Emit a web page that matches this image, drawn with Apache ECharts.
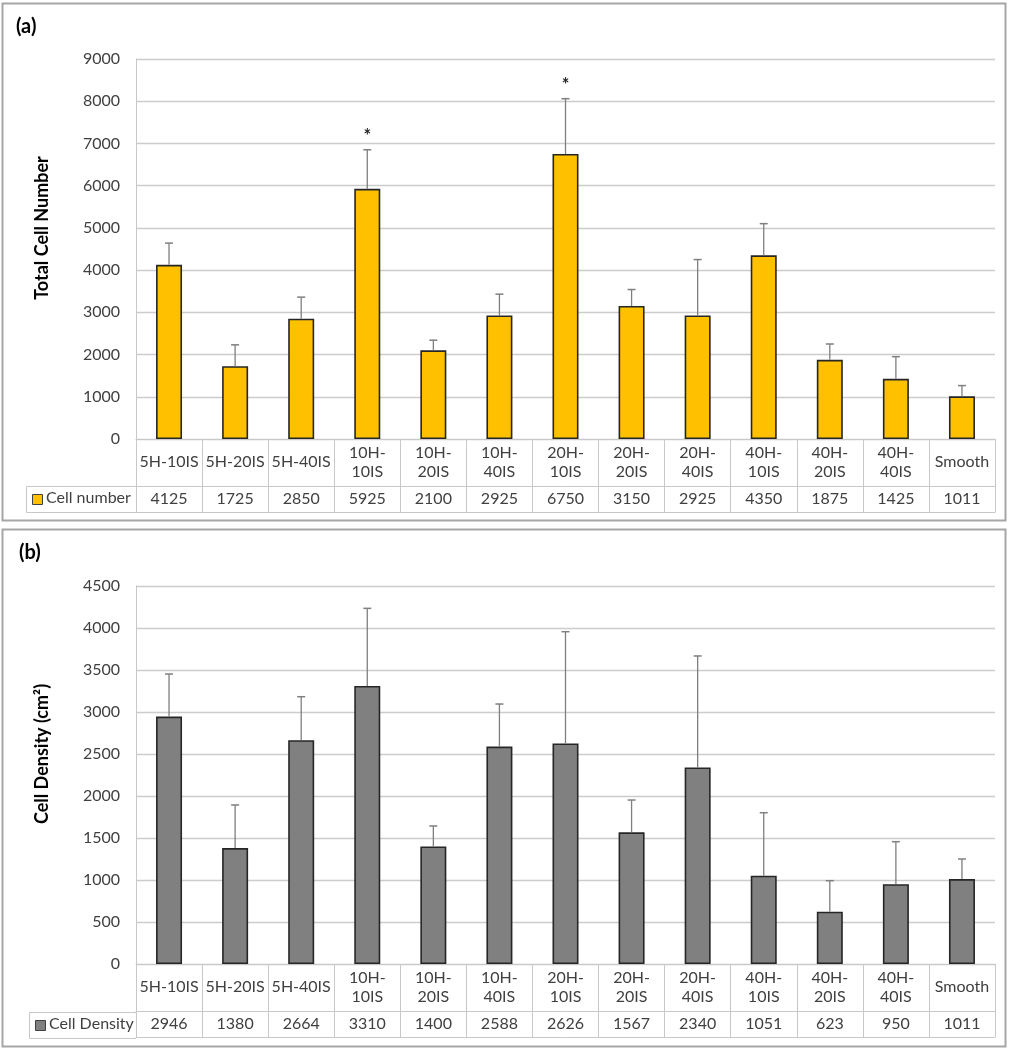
<!DOCTYPE html>
<html>
<head>
<meta charset="utf-8">
<script src="https://cdn.jsdelivr.net/npm/echarts@6/dist/echarts.min.js"></script>
<style>
html,body{margin:0;padding:0;background:#fff;}
#chart{width:1011px;height:1050px;}
</style>
</head>
<body>
<div id="chart"></div>
<script>
const categories = ['5H-10IS','5H-20IS','5H-40IS','10H-10IS','10H-20IS','10H-40IS','20H-10IS','20H-20IS','20H-40IS','40H-10IS','40H-20IS','40H-40IS','Smooth'];
const cellNumber = [4125,1725,2850,5925,2100,2925,6750,3150,2925,4350,1875,1425,1011];
const cellNumberErrTop = [4640,2230,3360,6850,2340,3430,8060,3540,4250,5100,2250,1950,1265];
const cellNumberSig = ['','','','*','','','*','','','','','',''];
const cellDensity = [2946,1380,2664,3310,1400,2588,2626,1567,2340,1051,623,950,1011];
const cellDensityErrTop = [3452,1893,3182,4234,1643,3095,3956,1952,3667,1801,992,1456,1250];
const cellDensitySig = ['','','','','','','','','','','','',''];
const yTicksA = {min:0, max:9000, interval:1000};
const yTicksB = {min:0, max:4500, interval:500};

const FONT = 'Lato';
const TXT = '#404040';
const GRIDC = '#cccccc';
const TABLEC = '#c8c8c8';

function catLabel(v){ return v.length > 7 ? v.replace('-', '-\n') : v; }

function errRender(sig){
  return function(params, api){
    const i = api.value(0), v = api.value(1), t = api.value(2);
    const p0 = api.coord([i, v]);
    const p1 = api.coord([i, t]);
    const children = [
      {type:'line', shape:{x1:p0[0], y1:p0[1], x2:p1[0], y2:p1[1]}, style:{stroke:'#7f7f7f', lineWidth:1.3}},
      {type:'line', shape:{x1:p1[0]-4, y1:p1[1], x2:p1[0]+4, y2:p1[1]}, style:{stroke:'#7f7f7f', lineWidth:1.5}}
    ];
    const s = sig[params.dataIndex];
    if (s) {
      children.push({type:'text', x:p1[0], y:p1[1]-5, style:{text:s, fontSize:18, fontWeight:'bold', fontFamily:FONT, fill:'#262626', align:'center', verticalAlign:'bottom'}});
    }
    return {type:'group', children:children};
  };
}

const grids = [
  {left:136, width:859, top:59, height:380},
  {left:136, width:859, top:586, height:378}
];

function xAxesFor(gi, values){
  return [
    {type:'category', gridIndex:gi, data:categories, position:'bottom',
     axisLine:{show:true, lineStyle:{color:TABLEC, width:1}},
     axisTick:{show:true, length:73, lineStyle:{color:TABLEC, width:1}},
     axisLabel:{formatter:catLabel, interval:0, margin:23, verticalAlign:'middle', fontFamily:FONT, fontSize:16, color:TXT, lineHeight:19}},
    {type:'category', gridIndex:gi, data:values.map(String), position:'bottom', offset:47,
     axisLine:{show:true, lineStyle:{color:TABLEC, width:1}},
     axisTick:{show:false},
     axisLabel:{interval:0, margin:13, verticalAlign:'middle', fontFamily:FONT, fontSize:16, color:TXT}},
    {type:'category', gridIndex:gi, data:categories, position:'bottom', offset:73,
     axisLine:{show:true, lineStyle:{color:TABLEC, width:1}},
     axisTick:{show:false}, axisLabel:{show:false}}
  ];
}

function yAxisFor(gi, ticks, name){
  return {type:'value', gridIndex:gi, min:ticks.min, max:ticks.max, interval:ticks.interval,
    name:name, nameLocation:'middle', nameGap:85, nameRotate:90,
    nameTextStyle:{fontFamily:FONT, fontSize:18, fontWeight:'bold', color:'#000', padding:[0,0,0,42]},
    axisLine:{show:true, lineStyle:{color:TABLEC, width:1}},
    axisTick:{show:false},
    axisLabel:{fontFamily:FONT, fontSize:16, color:TXT, margin:16, formatter:function(v){return String(v);}},
    splitLine:{show:true, lineStyle:{color:GRIDC, width:1.3}}};
}

const option = {
  animation:false,
  backgroundColor:'#fff',
  grid: grids,
  xAxis: [].concat(xAxesFor(0, cellNumber), xAxesFor(1, cellDensity)),
  yAxis: [yAxisFor(0, yTicksA, 'Total Cell Number'), yAxisFor(1, yTicksB, 'Cell Density (cm²)')],
  series: [
    {type:'bar', xAxisIndex:0, yAxisIndex:0, data:cellNumber, barWidth:26,
     itemStyle:{color:'#FFC000', borderColor:'#262626', borderWidth:1.6}},
    {type:'custom', xAxisIndex:0, yAxisIndex:0, renderItem:errRender(cellNumberSig),
     data:cellNumber.map((v,i)=>[i, v, cellNumberErrTop[i]]), z:3},
    {type:'bar', xAxisIndex:3, yAxisIndex:1, data:cellDensity, barWidth:26,
     itemStyle:{color:'#808080', borderColor:'#262626', borderWidth:1.6}},
    {type:'custom', xAxisIndex:3, yAxisIndex:1, renderItem:errRender(cellDensitySig),
     data:cellDensity.map((v,i)=>[i, v, cellDensityErrTop[i]]), z:3}
  ],
  graphic: [
    {type:'rect', shape:{x:2.5, y:3.5, width:1003, height:517}, style:{fill:'none', stroke:'#a6a6a6', lineWidth:2}, silent:true},
    {type:'rect', shape:{x:2.5, y:529.5, width:1003, height:517}, style:{fill:'none', stroke:'#a6a6a6', lineWidth:2}, silent:true},
    {type:'text', left:16, top:17, style:{text:'(a)', fontFamily:FONT, fontSize:20, fontWeight:'bold', fill:'#000'}},
    {type:'text', left:19, top:543, style:{text:'(b)', fontFamily:FONT, fontSize:20, fontWeight:'bold', fill:'#000'}},
    // legend cell (a)
    {type:'polyline', shape:{points:[[136,486.5],[26.5,486.5],[26.5,512.5],[136,512.5]]}, style:{stroke:TABLEC, lineWidth:1, fill:'none'}},
    {type:'rect', shape:{x:32.5, y:494.5, width:10, height:10}, style:{fill:'#FFC000', stroke:'#404040', lineWidth:1}},
    {type:'text', left:46, top:490, style:{text:'Cell number', fontFamily:FONT, fontSize:16, fill:TXT}},
    // legend cell (b)
    {type:'polyline', shape:{points:[[136,1012.5],[29.5,1012.5],[29.5,1038.5],[136,1038.5]]}, style:{stroke:TABLEC, lineWidth:1, fill:'none'}},
    {type:'rect', shape:{x:35.5, y:1020.5, width:10, height:10}, style:{fill:'#808080', stroke:'#404040', lineWidth:1}},
    {type:'text', left:49, top:1016, style:{text:'Cell Density', fontFamily:FONT, fontSize:16, fill:TXT}}
  ]
};

const chart = echarts.init(document.getElementById('chart'), null, {renderer:'canvas'});
chart.setOption(option);
</script>
</body>
</html>
